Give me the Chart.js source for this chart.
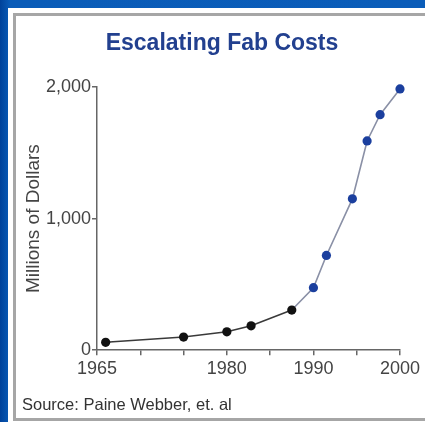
<!DOCTYPE html>
<html>
<head>
<meta charset="utf-8">
<script src="https://cdn.jsdelivr.net/npm/chart.js@4/dist/chart.umd.min.js"></script>
<style>
  html, body { margin: 0; padding: 0; }
  body {
    width: 425px; height: 422px; overflow: hidden; position: relative;
    background: linear-gradient(90deg, #00429a 0px, #0a5cb8 10px, #0b5db9 100%);
  }
  #panel { position: absolute; left: 8px; top: 8px; width: 417px; height: 414px; background: #fff; }
  #frame { position: absolute; left: 13px; top: 13px; width: 420px; height: 402px;
           border: 3px solid #a6a6a6; border-right: none; }
  #c { position: absolute; left: 0; top: 0; }
</style>
</head>
<body>
<div id="panel"></div>
<div id="frame"></div>
<canvas id="c" width="425" height="422"></canvas>
<script>
const years = [1966, 1975, 1980, 1982.8, 1987.5, 1990, 1991.5, 1994.5, 1996.2, 1997.7, 2000];
const costs = [60, 100, 140, 185, 305, 475, 720, 1150, 1590, 1790, 1985];
const projected = [false, false, false, false, false, true, true, true, true, true, true];
const xTickLabels = [1965, 1980, 1990, 2000];
const yTickLabels = [0, 1000, 2000];
const titleText = 'Escalating Fab Costs';
const yTitleText = 'Millions of Dollars';
const sourceText = 'Source: Paine Webber, et. al';

const FONT = '"Liberation Sans", Arial, sans-serif';
const BLACK = '#111111';
const BLUE = '#1b3f9e';

const points = years.map((y, i) => ({ x: y, y: costs[i] }));

new Chart(document.getElementById('c'), {
  type: 'line',
  data: {
    datasets: [{
      data: points,
      clip: false,
      pointRadius: 4.6,
      pointBorderWidth: 0,
      pointBackgroundColor: projected.map(p => p ? BLUE : BLACK),
      pointBorderColor: projected.map(p => p ? BLUE : BLACK),
      borderWidth: 1.6,
      borderColor: '#333',
      tension: 0,
      segment: {
        borderColor: ctx => projected[ctx.p1DataIndex] ? '#8a90a6' : '#3a3a3a'
      }
    }]
  },
  options: {
    responsive: false,
    animation: false,
    layout: { padding: { left: 22, right: 3, top: 0, bottom: 0 } },
    plugins: {
      legend: { display: false },
      tooltip: { enabled: false },
      title: {
        display: true, text: titleText, color: '#22408f',
        font: { family: FONT, size: 23, weight: 'bold' },
        padding: { top: 30, bottom: 29.4 }
      },
      subtitle: {
        display: true, position: 'bottom', align: 'start', text: sourceText,
        color: '#333', font: { family: FONT, size: 16.5 },
        padding: { top: 4, bottom: 7 }
      }
    },
    scales: {
      x: {
        type: 'linear', min: 1965, max: 2000,
        ticks: {
          stepSize: 5, autoSkip: false, maxRotation: 0, padding: 3.2,
          color: '#444', font: { family: FONT, size: 18 },
          callback: v => xTickLabels.includes(v) ? String(v) : ''
        },
        grid: { drawOnChartArea: false, drawTicks: true, tickLength: 5, color: '#666', lineWidth: 1.5 },
        border: { display: true, color: '#666', width: 1.5 },
        afterFit(s) { s.height = 41; s.paddingRight = 25; }
      },
      y: {
        min: 0, max: 2000,
        ticks: {
          stepSize: 1000, padding: 1,
          color: '#444', font: { family: FONT, size: 18 },
          callback: v => yTickLabels.includes(v) ? v.toLocaleString('en-US') : ''
        },
        grid: { drawOnChartArea: false, drawTicks: true, tickLength: 5, color: '#666', lineWidth: 1.5 },
        border: { display: true, color: '#666', width: 1.5 },
        title: {
          display: true, text: yTitleText, color: '#444',
          font: { family: FONT, size: 19 }, padding: 0
        },
        afterFit(s) { s.width = 75; }
      }
    }
  }
});
</script>
</body>
</html>
